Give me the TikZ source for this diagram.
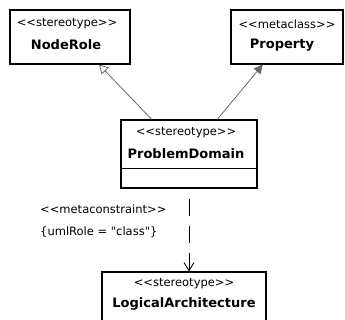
\documentclass[tikz,border=0pt]{standalone}
\usepackage{fontspec}
\setmainfont{DejaVu Sans}[Ligatures=TeXOff]
\usetikzlibrary{arrows.meta, calc}
\definecolor{linkc}{RGB}{105,105,105}
\newcommand{\stp}[1]{<\kern0pt<#1>\kern0pt>}

\begin{document}
\begin{tikzpicture}[x=1pt,y=-1pt,
    cls/.style={draw,line width=1.1pt,fill=white,inner sep=0pt},
    stereo/.style={font=\fontsize{11.5}{13}\selectfont,inner sep=0pt},
    cname/.style={font=\fontsize{13}{15}\selectfont\bfseries,inner sep=0pt},
    link/.style={draw=linkc,line width=0.8pt}]
			\useasboundingbox (0,0) rectangle (345,320);
			\clip (0,0) rectangle (345,320);
			% class boxes
			\node[cls,minimum width=120pt,minimum height=54pt] (noderole) at (70,37) {};
			\node[cls,minimum width=112pt,minimum height=54pt] (property) at (287,37) {};
			\node[cls,minimum width=136pt,minimum height=68pt] (problem) at (189,154) {};
			\node[cls,minimum width=164pt,minimum height=58pt] (logical) at (184,301) {};
			\draw[line width=0.9pt] ($(problem.south west)+(0,-20)$) -- ($(problem.south east)+(0,-20)$);
			% names
			\node[stereo] (nrst) at (67,24) {\stp{stereotype}};
			\node[cname] (nrname) at (66,45) {NodeRole};
			\node[stereo] (prst) at (287,24) {\stp{metaclass}};
			\node[cname] (prname) at (282,45) {Property};
			\node[stereo] (pdst) at (186,133) {\stp{stereotype}};
			\node[cname] (pdname) at (186,154) {ProblemDomain};
			\node[stereo] (last) at (184,284) {\stp{stereotype}};
			\node[cname] (laname) at (184,304) {LogicalArchitecture};
			% generalization and association
			\draw[link,-{Triangle[open,length=9pt,width=10pt]}]
				($(problem.north west)!0.228!(problem.north east)$) -- ($(noderole.south west)!0.74!(noderole.south east)$);
			\draw[link,-{Triangle[length=9pt,width=9pt]}]
				($(problem.north west)!0.706!(problem.north east)$) -- ($(property.south west)!0.286!(property.south east)$);
			% constraint dependency
			\draw[line width=0.9pt,dash pattern=on 17pt off 10pt,dash phase=17pt,-{Straight Barb[length=8pt,width=10pt]}]
				(problem.south) -- (problem.south |- logical.north);
			\node[stereo,anchor=west] (mcst) at (40,209) {\stp{metaconstraint}};
			\node[stereo,anchor=west] (mcrole) at (40,232) {\{umlRole = "class"\}};
		\end{tikzpicture}
\end{document}
